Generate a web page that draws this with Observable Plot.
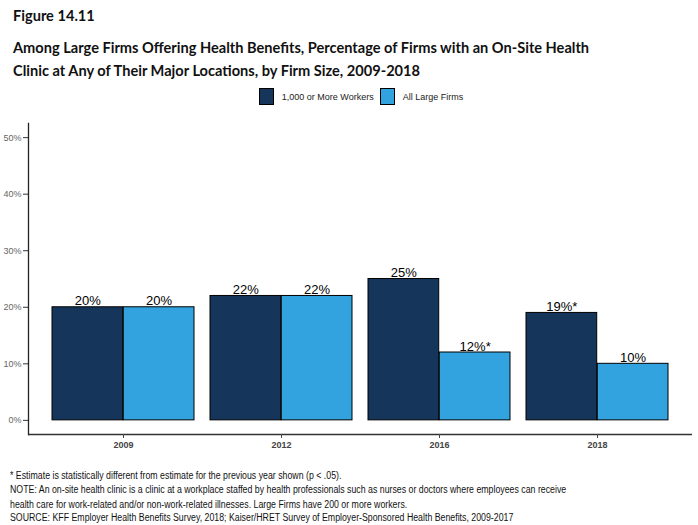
<!DOCTYPE html>
<html>
<head>
<meta charset="utf-8">
<script src="https://cdn.jsdelivr.net/npm/d3@7"></script>
<script src="https://cdn.jsdelivr.net/npm/@observablehq/plot@0.6"></script>
<style>
  html, body { margin: 0; padding: 0; background: #fff; }
  body { width: 698px; height: 525px; position: relative; overflow: hidden; font-family: "Liberation Sans", sans-serif; }
  .title { position: absolute; left: 13px; font-family: Lato, sans-serif; font-weight: 700; font-size: 14.6px; color: #111; white-space: nowrap; }
  #legend { position: absolute; top: 88px; left: 12px; width: 698px; display: flex; justify-content: center; align-items: center; font-size: 9px; color: #222; }
  #legend .sw { width: 15px; height: 17px; border: 1px solid #000; box-sizing: border-box; margin-right: 8px; }
  #legend .item { display: flex; align-items: center; margin: 0 3px; }
  #chart { position: absolute; left: 0; top: 110px; }
  .note { position: absolute; left: 10px; font-size: 10px; color: #111; white-space: nowrap; transform: scaleX(0.878); transform-origin: left center; }
</style>
</head>
<body>
<div class="title" style="top:7px">Figure 14.11</div>
<div class="title" style="top:39px">Among Large Firms Offering Health Benefits, Percentage of Firms with an On-Site Health</div>
<div class="title" style="top:62px">Clinic at Any of Their Major Locations, by Firm Size, 2009-2018</div>
<div id="legend"></div>
<div id="chart"></div>
<div class="note" style="top:470px">* Estimate is statistically different from estimate for the previous year shown (p &lt; .05).</div>
<div class="note" style="top:484px">NOTE: An on-site health clinic is a clinic at a workplace staffed by health professionals such as nurses or doctors where employees can receive</div>
<div class="note" style="top:499px">health care for work-related and/or non-work-related illnesses. Large Firms have 200 or more workers.</div>
<div class="note" style="top:512px">SOURCE: KFF Employer Health Benefits Survey, 2018; Kaiser/HRET Survey of Employer-Sponsored Health Benefits, 2009-2017</div>
<script>
// Data
const years = ["2009", "2012", "2016", "2018"];
const seriesNames = ["1,000 or More Workers", "All Large Firms"];
const workers1000 = [20, 22, 25, 19];
const allLarge = [20, 22, 12, 10];
const sig1000 = [false, false, false, true];
const sigAll = [false, false, true, false];
const yTicks = [0, 10, 20, 30, 40, 50];
const colors = ["#15355a", "#33a3e0"];

const W = 698, H = 350;
const mL = 28, mR = 6, mT = 13, mB = 26;
const padIn = 0.1, padOut = 0.146;
const step = (W - mL - mR) / (years.length - padIn + 2 * padOut);
const bw = step * (1 - padIn);
const half = bw / 2;

const rows = [];
years.forEach((y, i) => {
  rows.push({year: y, series: seriesNames[0], value: workers1000[i], label: workers1000[i] + "%" + (sig1000[i] ? "*" : ""), side: 0});
  rows.push({year: y, series: seriesNames[1], value: allLarge[i], label: allLarge[i] + "%" + (sigAll[i] ? "*" : ""), side: 1});
});
const left = rows.filter(d => d.side === 0);
const right = rows.filter(d => d.side === 1);

const plot = Plot.plot({
  width: W, height: H,
  marginLeft: mL, marginRight: mR, marginTop: mT, marginBottom: mB,
  style: {fontFamily: "Liberation Sans, Arial, sans-serif", background: "#fff"},
  x: {domain: years, paddingInner: padIn, paddingOuter: padOut, label: null},
  y: {domain: [-2.5, 52.5], label: null},
  color: {domain: seriesNames, range: colors},
  marks: [
    Plot.barY(left, {x: "year", y1: 0, y2: "value", fill: "series", stroke: "#000", strokeWidth: 1, insetRight: half, insetLeft: 0}),
    Plot.barY(right, {x: "year", y1: 0, y2: "value", fill: "series", stroke: "#000", strokeWidth: 1, insetLeft: half, insetRight: 0}),
    Plot.text(left, {x: "year", y: "value", text: "label", dx: -half / 2, dy: -2, lineAnchor: "bottom", fontSize: 13, fill: "#000"}),
    Plot.text(right, {x: "year", y: "value", text: "label", dx: half / 2, dy: -2, lineAnchor: "bottom", fontSize: 13, fill: "#000"}),
    Plot.ruleY([-2.5], {stroke: "#333", strokeWidth: 1.3}),
    Plot.frame({anchor: "left", stroke: "#222", strokeWidth: 1.3}),
    Plot.axisY({ticks: yTicks, tickFormat: d => d + "%", tickSize: 5, tickPadding: 2, fontSize: 9, color: "#666", stroke: "#333"}),
    Plot.axisX({tickSize: 4, tickPadding: 3, fontSize: 9, fontWeight: "bold", color: "#444"})
  ]
});
document.getElementById("chart").appendChild(plot);

// Legend
const lg = document.getElementById("legend");
seriesNames.forEach((n, i) => {
  const it = document.createElement("div");
  it.className = "item";
  const sw = document.createElement("div");
  sw.className = "sw";
  sw.style.background = colors[i];
  const t = document.createElement("span");
  t.textContent = n;
  it.appendChild(sw); it.appendChild(t);
  lg.appendChild(it);
});
</script>
</body>
</html>
